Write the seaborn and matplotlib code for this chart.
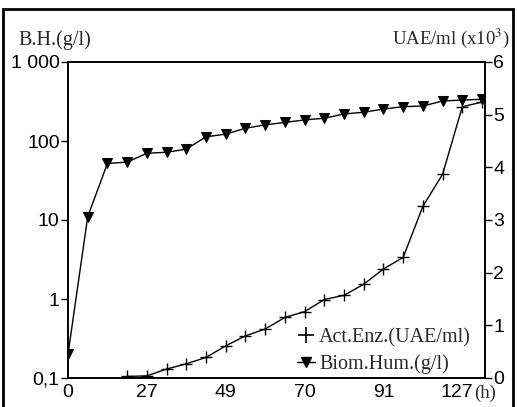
import matplotlib
matplotlib.use('Agg')
import matplotlib.pyplot as plt
import matplotlib.transforms as mtrans
import seaborn as sns
import pandas as pd
from matplotlib.lines import Line2D
from matplotlib.patches import Rectangle

# ---- data (sample index along x; tick labels give hours) ----
bio_idx = list(range(22))
biomass = [0.2, 11, 52, 54, 70, 72, 79, 113, 122, 145, 160, 172, 185, 194,
           220, 231, 254, 272, 277, 321, 330, 337]
enz_idx = list(range(3, 22))
enzyme = [0.03, 0.04, 0.17, 0.27, 0.39, 0.61, 0.80, 0.93, 1.15, 1.26, 1.49,
          1.57, 1.78, 2.07, 2.29, 3.26, 3.87, 5.15, 5.24]
x_tick_pos = [0, 4, 8, 12, 16, 20]
x_tick_labels = ['0', '27', '49', '70', '91', '127']
left_ticks = [0.1, 1, 10, 100, 1000]
left_tick_labels = ['0,1', '1', '10', '100', '1 000']
right_ticks = [0, 1, 2, 3, 4, 5, 6]

sns.set_style('white')
plt.rcParams['font.family'] = ['Liberation Sans Narrow', 'Liberation Sans', 'DejaVu Sans']
plt.rcParams['mathtext.fontset'] = 'stix'

W, H = 517, 407
fig = plt.figure(figsize=(W / 100, H / 100), dpi=100)
L, R, T, B = 68, 485, 62, 378
ax = fig.add_axes([L / W, 1 - B / H, (R - L) / W, (B - T) / H])
ax2 = ax.twinx()

df_bio = pd.DataFrame({'idx': bio_idx, 'val': biomass})
df_enz = pd.DataFrame({'idx': enz_idx, 'val': enzyme})

sns.lineplot(data=df_bio, x='idx', y='val', ax=ax, color='black', lw=1.0,
             marker='v', markersize=6.5, markeredgecolor='black', markerfacecolor='black')
sns.lineplot(data=df_enz, x='idx', y='val', ax=ax2, color='black', lw=1.0,
             marker='+', markersize=9, markeredgewidth=1.0, markeredgecolor='black')

ax.set_yscale('log')
ax.set_ylim(0.1, 1000)
ax.set_xlim(0, 21.15)
ax2.set_ylim(0, 6)

ax.set_xticks(x_tick_pos)
ax.set_xticklabels(x_tick_labels)
ax.set_yticks(left_ticks)
ax.set_yticklabels(left_tick_labels)
ax.minorticks_off()
ax2.set_yticks(right_ticks)
ax2.set_yticklabels([str(t) for t in right_ticks])

for a in (ax, ax2):
    a.set_xlabel('')
    a.set_ylabel('')
    for s in a.spines.values():
        s.set_color('black')
        s.set_linewidth(1.2)
    a.tick_params(direction='out', length=5, width=1.0, colors='black',
                  labelsize=14, pad=1)
ax.tick_params(axis='x', length=4, pad=0)

last = ax.get_xticklabels()[-1]
last.set_transform(last.get_transform() +
                   mtrans.ScaledTranslation(-6 / 100, 0, fig.dpi_scale_trans))

fig.text(474 / W, 1 - 393 / H, '(h)', family='Liberation Serif',
         fontsize=13.5, ha='left', va='center')
fig.text(18 / W, 1 - 40 / H, 'B.H.(g/l)', family='Liberation Serif',
         fontsize=14.5, ha='left', va='center')
fig.text(510 / W, 1 - 38 / H, 'UAE/ml (x10$^{3}$)', family='Liberation Serif',
         fontsize=13.5, ha='right', va='center')

handles = [
    Line2D([], [], color='black', marker='+', markersize=11, markeredgewidth=1.2, lw=0),
    Line2D([], [], color='black', marker='v', markersize=7, lw=1.0),
]
leg = ax2.legend(handles, ['Act.Enz.(UAE/ml)', 'Biom.Hum.(g/l)'],
                 loc='lower right', bbox_to_anchor=(0.995, -0.025), frameon=False,
                 prop={'family': 'Liberation Serif', 'size': 14.5},
                 handlelength=0.9, handletextpad=0.2, labelspacing=0.35,
                 borderaxespad=0.2)

fig.add_artist(Rectangle((3 / W, -0.01), (513 - 3) / W, 1.01 - 9 / H,
                         transform=fig.transFigure, fill=False,
                         lw=2.0, ec='black'))

fig.savefig('out.png', dpi=100)
